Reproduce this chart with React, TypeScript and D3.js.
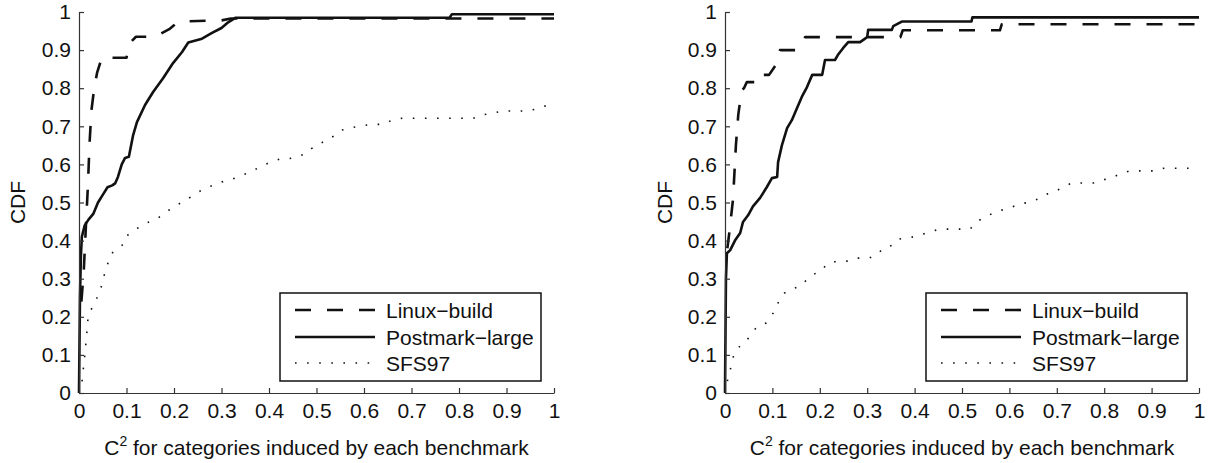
import { useEffect, useRef } from 'react'
import * as d3 from 'd3'

// left panel
const leftLinuxX = [0.005, 0.01, 0.015, 0.019, 0.022, 0.026, 0.032, 0.038, 0.048, 0.1, 0.103, 0.108, 0.12, 0.16, 0.19, 0.2, 0.21, 0.3, 0.32, 1.0]
const leftLinuxY = [0.24, 0.32, 0.45, 0.55, 0.65, 0.74, 0.8, 0.84, 0.88, 0.88, 0.9, 0.92, 0.935, 0.935, 0.955, 0.965, 0.975, 0.978, 0.983, 0.983]

const leftPostX = [0, 0.002, 0.004, 0.006, 0.012, 0.02, 0.03, 0.04, 0.05, 0.06, 0.07, 0.076, 0.082, 0.09, 0.097, 0.105, 0.114, 0.122, 0.139, 0.156, 0.177, 0.198, 0.217, 0.23, 0.259, 0.28, 0.3, 0.314, 0.33, 0.78, 0.785, 1.0]
const leftPostY = [0, 0.25, 0.36, 0.41, 0.44, 0.455, 0.47, 0.5, 0.52, 0.54, 0.545, 0.55, 0.567, 0.6, 0.617, 0.62, 0.677, 0.711, 0.756, 0.79, 0.826, 0.866, 0.895, 0.92, 0.93, 0.945, 0.958, 0.973, 0.985, 0.985, 0.994, 0.994]

const leftSfsX = [0, 0.006, 0.013, 0.019, 0.027, 0.044, 0.055, 0.061, 0.069, 0.097, 0.103, 0.133, 0.166, 0.196, 0.223, 0.255, 0.29, 0.324, 0.36, 0.396, 0.423, 0.44, 0.476, 0.49, 0.507, 0.522, 0.539, 0.553, 0.572, 0.594, 0.617, 0.64, 0.659, 0.68, 0.83, 0.848, 0.87, 0.89, 0.941, 0.962, 0.981, 1.0]
const leftSfsY = [0, 0.026, 0.108, 0.197, 0.223, 0.265, 0.318, 0.341, 0.367, 0.394, 0.415, 0.441, 0.459, 0.486, 0.505, 0.53, 0.55, 0.562, 0.58, 0.602, 0.614, 0.614, 0.627, 0.642, 0.653, 0.667, 0.675, 0.69, 0.696, 0.701, 0.705, 0.705, 0.716, 0.721, 0.721, 0.73, 0.734, 0.74, 0.74, 0.745, 0.753, 0.756]

// right panel
const rightLinuxX = [0.005, 0.01, 0.017, 0.023, 0.028, 0.035, 0.04, 0.046, 0.07, 0.072, 0.093, 0.112, 0.116, 0.152, 0.169, 0.207, 0.37, 0.375, 0.58, 0.584, 1.0]
const rightLinuxY = [0.38, 0.43, 0.51, 0.65, 0.73, 0.795, 0.8, 0.816, 0.816, 0.835, 0.835, 0.87, 0.9, 0.9, 0.934, 0.934, 0.934, 0.952, 0.952, 0.968, 0.968]

const rightPostX = [0, 0.002, 0.004, 0.011, 0.021, 0.032, 0.038, 0.049, 0.059, 0.074, 0.088, 0.099, 0.11, 0.112, 0.12, 0.131, 0.141, 0.152, 0.162, 0.173, 0.184, 0.205, 0.211, 0.232, 0.238, 0.249, 0.26, 0.285, 0.3, 0.302, 0.352, 0.355, 0.373, 0.52, 0.522, 1.0]
const rightPostY = [0, 0.3, 0.367, 0.375, 0.4, 0.42, 0.449, 0.467, 0.49, 0.512, 0.54, 0.564, 0.567, 0.606, 0.65, 0.695, 0.716, 0.748, 0.777, 0.803, 0.835, 0.835, 0.874, 0.874, 0.887, 0.905, 0.921, 0.921, 0.934, 0.953, 0.953, 0.963, 0.975, 0.975, 0.986, 0.986]

const rightSfsX = [0, 0.004, 0.009, 0.015, 0.019, 0.03, 0.044, 0.055, 0.067, 0.087, 0.097, 0.108, 0.114, 0.125, 0.141, 0.16, 0.173, 0.188, 0.205, 0.215, 0.236, 0.26, 0.278, 0.304, 0.323, 0.333, 0.354, 0.367, 0.388, 0.41, 0.447, 0.464, 0.481, 0.5, 0.517, 0.531, 0.548, 0.566, 0.584, 0.605, 0.622, 0.643, 0.66, 0.679, 0.696, 0.713, 0.732, 0.776, 0.797, 0.819, 0.838, 0.854, 0.907, 0.926, 1.0]
const rightSfsY = [0, 0.026, 0.052, 0.079, 0.104, 0.121, 0.134, 0.155, 0.173, 0.184, 0.202, 0.22, 0.244, 0.262, 0.273, 0.281, 0.298, 0.312, 0.323, 0.339, 0.346, 0.346, 0.354, 0.354, 0.365, 0.38, 0.388, 0.404, 0.407, 0.414, 0.428, 0.43, 0.43, 0.43, 0.43, 0.449, 0.462, 0.472, 0.48, 0.488, 0.496, 0.501, 0.509, 0.522, 0.528, 0.541, 0.551, 0.551, 0.559, 0.567, 0.577, 0.583, 0.583, 0.59, 0.59]

const tickValues = [0, 0.1, 0.2, 0.3, 0.4, 0.5, 0.6, 0.7, 0.8, 0.9, 1]
const seriesNames = ['Linux−build', 'Postmark−large', 'SFS97']

const FONT = '"Liberation Sans", Arial, Helvetica, sans-serif'
const INK = '#111'

const styles = [
  { width: 2.6, dash: '16 16' },
  { width: 2.6, dash: null },
  { width: 1.6, dash: '1.6 10.5' },
]

export default function App() {
  const ref = useRef<SVGSVGElement>(null)

  useEffect(() => {
    const svg = d3.select(ref.current)
    svg.selectAll('*').remove()

    const panels = [
      { left: 79, right: 554, xs: [leftLinuxX, leftPostX, leftSfsX], ys: [leftLinuxY, leftPostY, leftSfsY], cdfX: 25, legendX: 280 },
      { left: 725, right: 1199, xs: [rightLinuxX, rightPostX, rightSfsX], ys: [rightLinuxY, rightPostY, rightSfsY], cdfX: 672, legendX: 926 },
    ]
    const top = 12, bottom = 393

    panels.forEach(p => {
      const x = d3.scaleLinear().domain([0, 1]).range([p.left, p.right])
      const y = d3.scaleLinear().domain([0, 1]).range([bottom, top])
      const g = svg.append('g')

      // curves
      p.xs.forEach((xs, i) => {
        const pts: [number, number][] = xs.map((v, j) => [v, p.ys[i][j]])
        const line = d3.line<[number, number]>().x(d => x(d[0])).y(d => y(d[1]))
        const path = g.append('path')
          .attr('d', line(pts))
          .attr('fill', 'none')
          .attr('stroke', INK)
          .attr('stroke-width', styles[i].width)
          .attr('stroke-linejoin', 'round')
        if (styles[i].dash) path.attr('stroke-dasharray', styles[i].dash)
      })

      // axes
      const fmt = (d: d3.NumberValue) => String(d)
      const ax = g.append('g')
        .attr('transform', 'translate(0,' + bottom + ')')
        .call(d3.axisBottom(x).tickValues(tickValues).tickFormat(fmt).tickSizeInner(-5).tickSizeOuter(0).tickPadding(10))
      const ay = g.append('g')
        .attr('transform', 'translate(' + p.left + ',0)')
        .call(d3.axisLeft(y).tickValues(tickValues).tickFormat(fmt).tickSizeInner(-5).tickSizeOuter(0).tickPadding(8))
      ;[ax, ay].forEach(a => {
        a.selectAll('path,line').attr('stroke', '#333').attr('stroke-width', 1.2)
        a.selectAll('text').attr('font-family', FONT).attr('font-size', 21).attr('fill', INK)
      })
      ax.selectAll('text').attr('dy', '0.71em')

      // axis labels
      g.append('text')
        .attr('transform', 'translate(' + p.cdfX + ',' + (top + bottom) / 2 + ') rotate(-90)')
        .attr('text-anchor', 'middle')
        .attr('font-family', FONT).attr('font-size', 21).attr('fill', INK)
        .text('CDF')

      const xl = g.append('text')
        .attr('x', (p.left + p.right) / 2)
        .attr('y', 455)
        .attr('text-anchor', 'middle')
        .attr('font-family', FONT).attr('font-size', 21).attr('fill', INK)
      xl.append('tspan').text('C')
      xl.append('tspan').attr('font-size', 14).attr('dy', -9).text('2')
      xl.append('tspan').attr('dy', 9).text(' for categories induced by each benchmark')

      // legend
      const lg = g.append('g')
      lg.append('rect')
        .attr('x', p.legendX).attr('y', 293).attr('width', 261).attr('height', 88)
        .attr('fill', 'white').attr('stroke', INK).attr('stroke-width', 1.5)
      const rowY = [310, 337, 363]
      seriesNames.forEach((name, i) => {
        const l = lg.append('line')
          .attr('x1', p.legendX + 15).attr('x2', p.legendX + 95)
          .attr('y1', rowY[i]).attr('y2', rowY[i])
          .attr('stroke', INK).attr('stroke-width', styles[i].width)
        if (styles[i].dash) l.attr('stroke-dasharray', styles[i].dash)
        lg.append('text')
          .attr('x', p.legendX + 106).attr('y', rowY[i] + 8)
          .attr('font-family', FONT).attr('font-size', 21).attr('fill', INK)
          .text(name)
      })
    })
  }, [])

  return (
    <svg ref={ref} width={1211} height={463}
      style={{ position: 'absolute', left: 0, top: 0, background: 'white' }} />
  )
}
